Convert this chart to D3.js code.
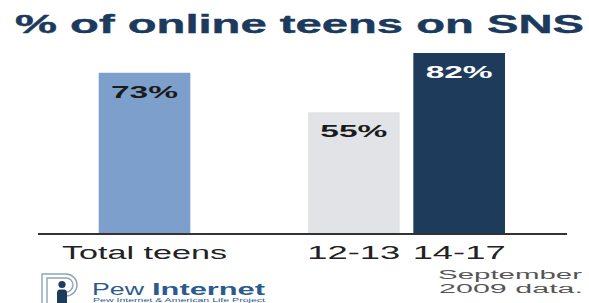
<!DOCTYPE html>
<html>
<head>
<meta charset="utf-8">
<script src="https://cdn.jsdelivr.net/npm/d3@7"></script>
<style>
  html, body { margin: 0; padding: 0; background: #ffffff; }
  svg { display: block; }
  text { font-family: "Liberation Sans", Arial, sans-serif; }
</style>
</head>
<body>
<svg id="chart" width="589" height="303"></svg>
<script>
// ---- data ----
const groups = ["Total teens", "By age"];
const totalLabel = ["Total teens"];
const totalValues = [73];
const ageCategories = ["12-13", "14-17"];
const ageValues = [55, 82];
const valueLabels = ["73%", "55%", "82%"];
const titleText = "% of online teens on SNS";
const noteLines = ["September", "2009 data."];

// ---- layout ----
const svg = d3.select("#chart");
const baseY = 233;

const y = d3.scaleLinear().domain([0, 100]).range([baseY, 13.5]);
const outer = d3.scaleBand().domain(groups).range([46, 505]).paddingInner(0.248).paddingOuter(0);
const inner = d3.scaleBand().domain(ageCategories).range([0, outer.bandwidth()]).paddingInner(0.13);

const bars = [
  { label: totalLabel[0], value: totalValues[0], text: valueLabels[0],
    x: outer(groups[0]) + (outer.bandwidth() - inner.bandwidth()) / 2,
    fill: "#7c9fcb", tc: "#1a1a1a" },
  { label: ageCategories[0], value: ageValues[0], text: valueLabels[1],
    x: outer(groups[1]) + inner(ageCategories[0]), fill: "#e2e3e7", tc: "#1a1a1a" },
  { label: ageCategories[1], value: ageValues[1], text: valueLabels[2],
    x: outer(groups[1]) + inner(ageCategories[1]), fill: "#1e3b5b", tc: "#ffffff" }
];
const bw = inner.bandwidth();

// title
svg.append("text")
  .attr("x", 15).attr("y", 33)
  .attr("font-size", 26).attr("font-weight", "bold")
  .attr("fill", "#1c3a5c")
  .attr("stroke", "#1c3a5c").attr("stroke-width", 0.4)
  .attr("textLength", 569).attr("lengthAdjust", "spacingAndGlyphs")
  .text(titleText);

// bars
svg.selectAll("rect.bar").data(bars).join("rect")
  .attr("class", "bar")
  .attr("x", d => d.x).attr("width", bw)
  .attr("y", d => y(d.value)).attr("height", d => baseY - y(d.value))
  .attr("fill", d => d.fill);

// value labels
svg.selectAll("text.val").data(bars).join("text")
  .attr("class", "val")
  .attr("x", d => d.x + bw / 2 - 33.5)
  .attr("y", d => y(d.value) + 25)
  .attr("font-size", 17).attr("font-weight", "bold")
  .attr("fill", d => d.tc)
  .attr("textLength", 67).attr("lengthAdjust", "spacingAndGlyphs")
  .text(d => d.text);

// baseline
svg.append("line")
  .attr("x1", 38).attr("x2", 567)
  .attr("y1", baseY + 1).attr("y2", baseY + 1)
  .attr("stroke", "#333333").attr("stroke-width", 2);

// category labels
svg.selectAll("text.cat").data(bars).join("text")
  .attr("class", "cat")
  .attr("x", (d, i) => d.x + bw / 2 - (i === 0 ? 82.5 : 46.5))
  .attr("y", 259)
  .attr("font-size", 18)
  .attr("fill", "#222222")
  .attr("textLength", (d, i) => i === 0 ? 165 : 93)
  .attr("lengthAdjust", "spacingAndGlyphs")
  .text(d => d.label);

// note
svg.selectAll("text.note").data(noteLines).join("text")
  .attr("class", "note")
  .attr("x", (d, i) => 438 + i)
  .attr("y", (d, i) => 279 + i * 14)
  .attr("font-size", 12)
  .attr("fill", "#555555")
  .attr("textLength", 144).attr("lengthAdjust", "spacingAndGlyphs")
  .text(d => d);

// logo
const logo = svg.append("g");
logo.append("path")
  .attr("d", "M42,303 V274 H66 A11,11 0 0 1 66,296 H61")
  .attr("fill", "none").attr("stroke", "#8ea2ba").attr("stroke-width", 1.4);
logo.append("path")
  .attr("d", "M47,303 V278 H66 A7,7 0 0 1 66,292 H64")
  .attr("fill", "none").attr("stroke", "#8ea2ba").attr("stroke-width", 1.4);
logo.append("circle").attr("cx", 62).attr("cy", 284.5).attr("r", 3.6).attr("fill", "#1e3b5b");
logo.append("path")
  .attr("d", "M57,303 V293 Q57,289.5 60,289.5 H64 Q67,289.5 67,293 V303 Z")
  .attr("fill", "#1e3b5b");

logo.append("text")
  .attr("x", 92).attr("y", 294.5).attr("font-size", 16)
  .attr("fill", "#2b5b8e")
  .attr("textLength", 52).attr("lengthAdjust", "spacingAndGlyphs")
  .text("Pew");
logo.append("text")
  .attr("x", 152).attr("y", 294.5).attr("font-size", 16).attr("font-weight", "bold")
  .attr("fill", "#2b5b8e")
  .attr("textLength", 113).attr("lengthAdjust", "spacingAndGlyphs")
  .text("Internet");
logo.append("text")
  .attr("x", 93).attr("y", 302).attr("font-size", 4.5)
  .attr("fill", "#2b5b8e")
  .attr("textLength", 172).attr("lengthAdjust", "spacingAndGlyphs")
  .text("Pew Internet & American Life Project");
</script>
</body>
</html>
